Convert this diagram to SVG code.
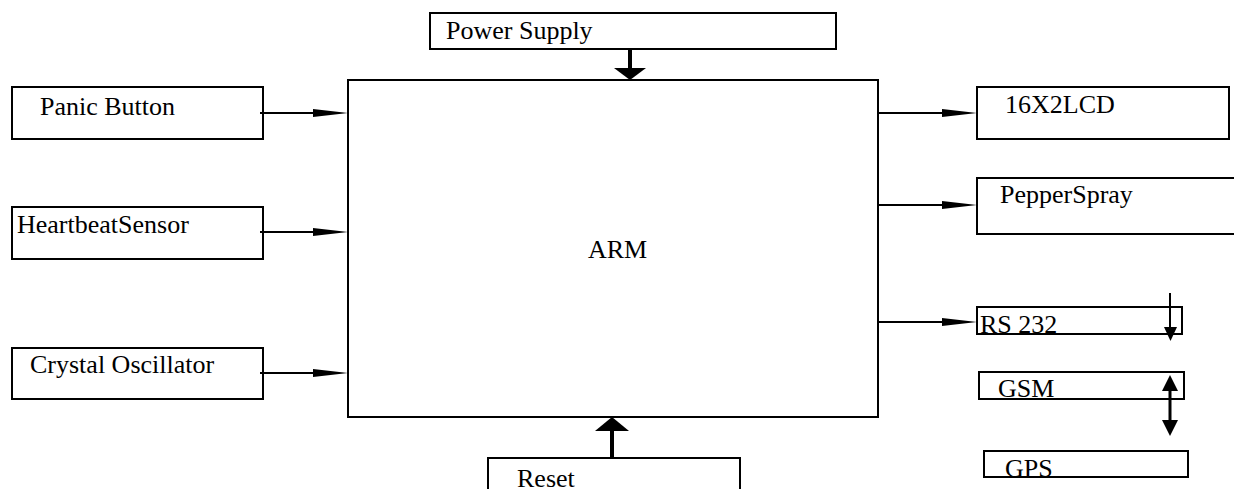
<svg xmlns="http://www.w3.org/2000/svg" width="1234" height="489" viewBox="0 0 1234 489">
<style>
.box{fill:#fff;stroke:#000;stroke-width:2}
.lbl{font-family:"Liberation Serif","Times New Roman",serif;font-size:26px;fill:#000}
.ln{stroke:#000;stroke-width:2;fill:none}
.thk{stroke:#000;stroke-width:4;fill:none}
.hd{fill:#000;stroke:none}
</style>
<rect width="1234" height="489" fill="#fff"/>
<g id="arm"><rect class="box" x="348" y="80" width="530" height="337"/><text class="lbl" x="588" y="258">ARM</text></g>
<g id="power-supply"><rect class="box" x="430" y="13" width="406" height="36"/><text class="lbl" x="446" y="39">Power Supply</text></g>
<g id="panic-button"><rect class="box" x="12" y="87" width="251" height="52"/><text class="lbl" x="40" y="115">Panic Button</text></g>
<g id="heartbeat-sensor"><rect class="box" x="12" y="207" width="251" height="52"/><text class="lbl" x="17" y="233">HeartbeatSensor</text></g>
<g id="crystal-oscillator"><rect class="box" x="12" y="348" width="251" height="51"/><text class="lbl" x="30" y="373">Crystal Oscillator</text></g>
<g id="lcd"><rect class="box" x="977" y="87" width="252" height="52"/><text class="lbl" x="1005" y="113">16X2LCD</text></g>
<g id="pepper-spray"><rect class="box" x="977" y="178" width="270" height="56"/><text class="lbl" x="1000" y="203">PepperSpray</text></g>
<g id="rs232"><rect class="box" x="977" y="307" width="205" height="27"/><text class="lbl" x="980" y="333">RS 232</text></g>
<g id="gsm"><rect class="box" x="979" y="372" width="205" height="27"/><text class="lbl" x="998" y="397">GSM</text></g>
<g id="gps"><rect class="box" x="984" y="451" width="204" height="26"/><text class="lbl" x="1005" y="477">GPS</text></g>
<g id="reset"><rect class="box" x="488" y="458" width="252" height="45"/><text class="lbl" x="517" y="487">Reset</text></g>
<g id="connectors">
<line class="ln" x1="260" y1="113" x2="316" y2="113"/><polygon class="hd" points="313,109 348,113 313,117"/>
<line class="ln" x1="260" y1="232" x2="316" y2="232"/><polygon class="hd" points="313,228 348,232 313,236"/>
<line class="ln" x1="260" y1="373" x2="316" y2="373"/><polygon class="hd" points="313,369 348,373 313,377"/>
<line class="ln" x1="878" y1="113" x2="945" y2="113"/><polygon class="hd" points="942,109 977,113 942,117"/>
<line class="ln" x1="878" y1="205" x2="945" y2="205"/><polygon class="hd" points="942,201 977,205 942,209"/>
<line class="ln" x1="878" y1="322" x2="945" y2="322"/><polygon class="hd" points="942,318 977,322 942,326"/>
<line class="thk" x1="630" y1="49" x2="630" y2="70"/><polygon class="hd" points="614,68 646,68 630,80"/>
<line class="thk" x1="612" y1="458" x2="612" y2="430"/><polygon class="hd" points="595,431 629,431 612,417"/>
<line class="ln" x1="1170" y1="293" x2="1170" y2="329"/><polygon class="hd" points="1164,327 1177,327 1170.5,341"/>
<line class="ln" x1="1170" y1="389" x2="1170" y2="422" style="stroke-width:3"/><polygon class="hd" points="1162,391 1178,391 1170,375"/><polygon class="hd" points="1162,420 1178,420 1170,436"/>
</g>
</svg>
